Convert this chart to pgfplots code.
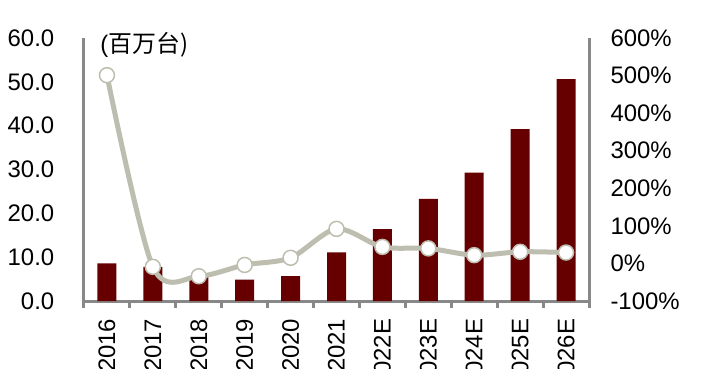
\documentclass[border=0pt]{standalone}
\usepackage{pgfplots}
\pgfplotsset{compat=1.18}
\usepackage{fontspec}
\setmainfont{Liberation Sans}
\newfontfamily\cjk{Noto Sans CJK SC}
\definecolor{barred}{RGB}{102,0,0}
\definecolor{linegray}{RGB}{190,190,176}
\definecolor{axgray}{RGB}{136,136,136}
\begin{document}
\begin{tikzpicture}
\begin{axis}[
  at={(0,0)}, anchor=south west,
  scale only axis, width=505bp, height=263bp,
  xmin=-0.5, xmax=10.5, ymin=0, ymax=60,
  axis x line*=bottom, axis y line*=left,
  axis line style={-, draw=axgray, line width=3bp},
  xtick={0,...,10},
  xticklabels={2016,2017,2018,2019,2020,2021,2022E,2023E,2024E,2025E,2026E},
  major x tick style={draw=none},
  minor xtick={-0.5,0.5,...,10.5},
  minor x tick style={draw=axgray, line width=3bp},
  minor tick length=7bp,
  tick align=outside,
  ytick={0,10,...,60},
  major y tick style={draw=none},
  /pgf/number format/assume math mode=true,
  yticklabel={\pgfmathprintnumber[fixed,fixed zerofill,precision=1]{\tick}},
  yticklabel style={font=\fontsize{24}{24}\selectfont, anchor=east, xshift=-22bp},
  xticklabel style={font=\fontsize{24}{24}\selectfont, rotate=90, anchor=east, yshift=0bp, xshift=-10bp},
  clip=false,
]
\addplot[ybar, bar width=19bp, fill=barred, draw=none] coordinates {
  (0,8.6) (1,7.8) (2,5.5) (3,4.9) (4,5.7) (5,11.1) (6,16.4) (7,23.3) (8,29.3) (9,39.2) (10,50.6)};
\node[anchor=west, font=\fontsize{24}{24}\selectfont, inner sep=0pt] at (rel axis cs:0.032,0.973) {(\cjk 百万台\/)};
\end{axis}
\begin{axis}[
  at={(0,0)}, anchor=south west,
  scale only axis, width=505bp, height=263bp,
  xmin=-0.5, xmax=10.5, ymin=-100, ymax=600,
  axis x line=none, axis y line*=right,
  axis line style={-, draw=axgray, line width=3bp},
  ytick={-100,0,...,600},
  major y tick style={draw=none},
  /pgf/number format/assume math mode=true,
  yticklabel={\pgfmathprintnumber{\tick}\%},
  yticklabel style={font=\fontsize{24}{24}\selectfont, anchor=west, xshift=18bp},
  clip=false,
]
\addplot[smooth, linegray, line width=5bp, mark=*, mark size=7.5bp,
  mark options={fill=white, draw=linegray, line width=1.5bp}] coordinates {
  (0,501) (1,-9) (2,-34) (3,-4) (4,15) (5,92) (6,44) (7,40) (8,22) (9,31) (10,29)};
\end{axis}
\pgfresetboundingbox
\path[use as bounding box] (-84bp,-68bp) rectangle (621bp,301bp);
\end{tikzpicture}
\end{document}
